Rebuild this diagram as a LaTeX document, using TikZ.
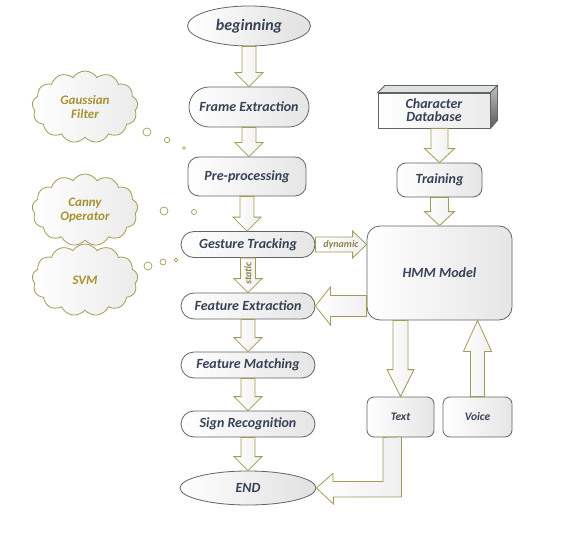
\documentclass[tikz,border=0pt]{standalone}
\usepackage{fontspec}
\setmainfont{Carlito}
\usetikzlibrary{shapes.geometric,shapes.misc,shapes.symbols,calc}

\definecolor{nodeline}{RGB}{92,104,102}
\definecolor{arrowline}{RGB}{164,154,86}
\definecolor{labeltext}{RGB}{56,66,86}
\definecolor{cloudtext}{RGB}{166,146,48}

% block arrow: [options]{from}{to}{shaft half width}{head half width}{head length}
\newcommand\flowarrow[6][]{%
  \draw[blockarrow,#1] let \p1=(#2), \p2=(#3),
    \n1={atan2(\y2-\y1,\x2-\x1)}, \n2={veclen(\x2-\x1,\y2-\y1)} in
    [shift={(\p1)}, rotate=\n1]
    (0pt,-#4pt) -- (\n2-#6pt,-#4pt) -- (\n2-#6pt,-#5pt) -- (\n2,0pt)
    -- (\n2-#6pt,#5pt) -- (\n2-#6pt,#4pt) -- (0pt,#4pt) -- cycle;}

\begin{document}
\begin{tikzpicture}[
  x=1pt, y=-1pt,
  line join=miter,
  every node/.style={text=labeltext, font=\bfseries\itshape\fontsize{14}{16}\selectfont},
  terminal/.style={ellipse, draw=nodeline, line width=.8pt, left color=white, right color=black!12, inner sep=0pt},
  pillbox/.style={rounded rectangle, draw=nodeline, line width=.8pt, left color=white, right color=black!10,
    minimum width=136, minimum height=26, inner sep=1pt},
  procbox/.style={rectangle, rounded corners=11, draw=nodeline, line width=.8pt, left color=white,
    right color=black!10, align=center, inner sep=1pt},
  dbbox/.style={rectangle, draw=nodeline, line width=.8pt, left color=white, right color=black!8,
    align=center, inner sep=1pt, minimum width=112, minimum height=35},
  thought/.style={cloud, cloud puffs=13, cloud puff arc=115, aspect=1.45, draw=arrowline, line width=.8pt,
    left color=white, right color=black!8, text=cloudtext, align=center,
    minimum width=106, minimum height=72, inner sep=0pt,
    font=\bfseries\itshape\fontsize{13}{16}\selectfont},
  bubble/.style={draw=arrowline, line width=.7pt, fill=white},
  blockarrow/.style={draw=arrowline, line width=.8pt, left color=white, right color=black!6},
  arrowlabel/.style={text=arrowline!85!black, inner sep=0pt, font=\bfseries\itshape\fontsize{10}{12}\selectfont},
]
\fill[white] (0,0) rectangle (561,537);
\useasboundingbox (0,0) rectangle (561,537);

% main flow
\node[terminal, minimum width=123, minimum height=40, font=\bfseries\itshape\fontsize{16}{18}\selectfont]
  (begin) at (249,26) {beginning};
\node[pillbox, minimum width=122, minimum height=40] (frame) at (249,107) {Frame Extraction};
\node[procbox, minimum width=118, minimum height=39] (pre) at (247,176.5) {Pre-processing};
\node[pillbox] (gesture) at (248,244.5) {Gesture Tracking};
\node[pillbox] (featext) at (248,306) {Feature Extraction};
\node[pillbox] (featmatch) at (248,365) {Feature Matching};
\node[pillbox] (signrec) at (248,424) {Sign Recognition};
\node[terminal, minimum width=136, minimum height=34] (end) at (248,488) {END};

% recognition side
\node[dbbox] (chardb) at (434,110.5) {Character\\[-3pt]Database};
\draw[draw=nodeline, line width=.8pt, fill=black!12]
  (chardb.north west) -- ++(7,-7) -- ([shift={(7,-7)}]chardb.north east) -- (chardb.north east) -- cycle;
\draw[draw=nodeline, line width=.8pt, top color=black!25, bottom color=black!65]
  (chardb.north east) -- ++(7,-7) -- ++(0,35) -- (chardb.south east) -- cycle;
\node[procbox, rounded corners=9, minimum width=85, minimum height=34] (training) at (439.5,180) {Training};
\node[procbox, rounded corners=13, minimum width=145, minimum height=94] (hmm) at (439.5,273) {HMM Model};
\node[procbox, rounded corners=7, minimum width=67, minimum height=40,
  font=\bfseries\itshape\fontsize{11.5}{14}\selectfont] (text) at (400.5,417) {Text};
\node[procbox, rounded corners=7, minimum width=69, minimum height=40,
  font=\bfseries\itshape\fontsize{11.5}{14}\selectfont] (voice) at (477.5,417) {Voice};

% helpers
\node[thought] (gauss) at (85,107) {Gaussian\\[-2pt]Filter};
\node[thought] (canny) at (85,210) {Canny\\[-2pt]Operator};
\node[thought] (svm) at (85,280) {SVM};
\draw[bubble] (147,132) circle (4pt) (167,140) circle (2.7pt) (184,148) circle (1.5pt);
\draw[bubble] (164,211) circle (4pt) (194,212) circle (2.5pt);
\draw[bubble] (148,266) circle (4pt) (163,262) circle (3pt) (176,260) circle (1.8pt);

% arrows
\flowarrow{begin.south}{begin.south |- frame.north}{7}{14}{14}
\flowarrow{frame.south}{frame.south |- pre.north}{7}{14}{14}
\flowarrow{pre.south}{pre.south |- gesture.north}{7}{14}{14}
\flowarrow{gesture.south}{featext.north}{7.5}{14}{14}
\flowarrow{featext.south}{featmatch.north}{7}{14}{14}
\flowarrow{featmatch.south}{signrec.north}{7}{14}{14}
\flowarrow{signrec.south}{end.north}{7}{14}{14}
\flowarrow{gesture.east}{gesture.east -| hmm.west}{7.5}{13.5}{14}
\flowarrow{featext.east -| hmm.west}{featext.east}{10.5}{19}{15}
\flowarrow{training.north |- chardb.south}{training.north}{8.5}{15}{14}
\flowarrow{training.south}{training.south |- hmm.north}{9}{15}{14}
\flowarrow{text.north |- hmm.south}{text.north}{7.5}{13.5}{27}
\flowarrow{voice.north}{voice.north |- hmm.south}{7}{14}{31}
\draw[blockarrow] ([xshift=-17.5]text.south) -- ++(0,44) -- ++(-50,0) -- ++(0,-8) -- (end.east)
  -- ++(17,16) -- ++(0,-7) -- ++(68,0) -- ++(0,-60) -- cycle;

\node[arrowlabel] (dyn) at ($(gesture.east)!.5!(gesture.east -| hmm.west)$) {dynamic};
\node[arrowlabel, rotate=90] (stat) at ($(gesture.south)!.45!(featext.north)$) {static};
\end{tikzpicture}
\end{document}
